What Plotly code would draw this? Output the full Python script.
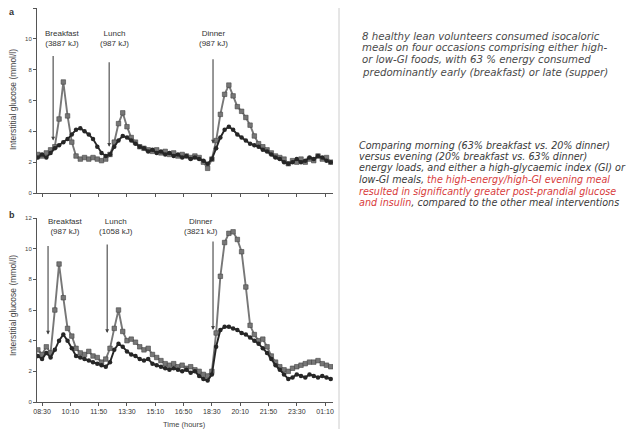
import plotly.graph_objects as go

# ---------------- data ----------------
minutes = list(range(-15, 1035, 15))  # sampling grid, minutes after 08:30

top_high_gi = [2.5, 2.4, 2.6, 2.8, 3.0, 4.8, 7.2, 5.0, 3.3, 2.4,
               2.2, 2.3, 2.2, 2.3, 2.2, 2.1, 2.2, 2.5, 3.3, 4.5,
               5.2, 4.3, 3.6, 3.3, 3.0, 2.9, 2.8, 2.7, 2.8, 2.6,
               2.7, 2.5, 2.6, 2.4, 2.5, 2.4, 2.3, 2.4, 2.3, 2.0,
               1.6, 2.2, 3.4, 5.1, 6.4, 7.0, 6.3, 5.6, 5.3, 4.9,
               4.4, 3.7, 3.2, 3.0, 2.8, 2.6, 2.4, 2.3, 2.2, 1.9,
               2.1, 2.0, 2.2, 2.0, 2.2, 2.1, 2.4, 2.2, 2.3, 2.0]
top_low_gi = [2.3, 2.5, 2.3, 2.6, 2.9, 3.1, 3.3, 3.5, 3.8, 4.1,
              4.2, 4.0, 3.8, 3.5, 3.0, 2.6, 2.4, 2.5, 3.0, 3.4,
              3.7, 3.6, 3.4, 3.2, 3.0, 2.9, 2.7, 2.8, 2.6, 2.7,
              2.5, 2.6, 2.4, 2.5, 2.3, 2.4, 2.2, 2.3, 2.2, 2.1,
              1.9, 2.2, 2.9, 3.6, 4.1, 4.3, 4.1, 3.8, 3.6, 3.4,
              3.2, 3.1, 3.0, 2.8, 2.7, 2.5, 2.3, 2.2, 2.0, 1.9,
              2.0, 2.2, 2.0, 2.1, 2.3, 2.2, 2.4, 2.3, 2.1, 2.0]
bottom_high_gi = [3.4, 3.1, 3.6, 3.2, 6.0, 9.0, 6.8, 4.8, 4.3, 3.5,
                  3.2, 3.1, 3.3, 3.0, 2.9, 2.6, 2.8, 3.5, 4.8, 6.0,
                  4.6, 4.0, 4.1, 3.9, 3.6, 3.4, 3.5, 3.1, 2.9, 2.7,
                  2.5, 2.4, 2.5, 2.3, 2.4, 2.2, 2.3, 2.1, 2.0, 1.8,
                  1.7, 2.0, 4.5, 8.2, 10.4, 11.0, 11.1, 10.6, 9.8, 7.5,
                  5.0, 4.4, 4.0, 4.1, 3.6, 3.0, 2.6, 2.3, 2.1, 2.0,
                  2.2, 2.3, 2.4, 2.5, 2.6, 2.6, 2.7, 2.5, 2.4, 2.3]
bottom_low_gi = [3.0, 2.8, 3.2, 2.9, 3.4, 4.0, 4.4, 4.0, 3.5, 3.0,
                 2.9, 2.8, 2.7, 2.6, 2.5, 2.4, 2.3, 2.6, 3.4, 3.8,
                 3.6, 3.3, 3.1, 3.0, 2.8, 2.7, 2.8, 2.5, 2.4, 2.3,
                 2.2, 2.1, 2.2, 2.1, 2.0, 2.1, 1.9, 2.0, 1.7, 1.5,
                 1.4, 1.8, 3.6, 4.7, 4.9, 4.9, 4.8, 4.7, 4.5, 4.4,
                 4.2, 4.0, 3.8, 3.5, 3.2, 2.8, 2.4, 2.1, 1.8, 1.5,
                 1.6, 1.8, 1.7, 1.6, 1.8, 1.7, 1.6, 1.7, 1.6, 1.5]

x_tick_labels = ["08:30", "10:10", "11:50", "13:30", "15:10", "16:50",
                 "18:30", "20:10", "21:50", "23:30", "01:10"]
y_tick_values = [0, 2, 4, 6, 8, 10, 12]

top_meals = ["Breakfast<br>(3887 kJ)", "Lunch<br>(987 kJ)", "Dinner<br>(987 kJ)"]
top_meal_minutes = [39, 237, 604]
top_meal_levels = [3.4, 3.0, 3.2]
bottom_meals = ["Breakfast<br>(987 kJ)", "Lunch<br>(1058 kJ)", "Dinner<br>(3821 kJ)"]
bottom_meal_minutes = [21, 230, 604]
bottom_meal_levels = [4.4, 4.5, 4.7]

para1 = ["8 healthy lean volunteers consumed isocaloric",
         "meals on four occasions comprising either high-",
         "or low-GI foods, with 63 % energy consumed",
         "predominantly early (breakfast) or late (supper)"]
para2 = [("Comparing morning (63% breakfast vs. 20% dinner)", ""),
         ("versus evening (20% breakfast vs. 63% dinner)", ""),
         ("energy loads, and either a high-glycaemic index (GI) or", ""),
         ("low-GI meals, ", "the high-energy/high-GI evening meal"),
         ("", "resulted in significantly greater post-prandial glucose"),
         ("", "and insulin|, compared to the other meal interventions")]

# ---------------- layout helpers ----------------
# the page body has an 8px margin, so the figure starts at (8, 8)
OFF = 8
W, H = 638 - OFF, 429 - OFF
def px(x):
    return (x - OFF) / W
def py(y):
    return 1 - (y - OFF) / H

FONT = "Liberation Sans, Arial, sans-serif"
DARK = "#262626"
GREY = "#777777"
AX = "#555555"
RED = "#d83c3c"

fig = go.Figure()

panels = [("x", "y", top_high_gi, top_low_gi), ("x2", "y2", bottom_high_gi, bottom_low_gi)]
for xa, ya, hi, lo in panels:
    fig.add_trace(go.Scatter(x=minutes, y=hi, xaxis=xa, yaxis=ya, mode="lines+markers",
                             line=dict(color=GREY, width=1.9),
                             marker=dict(symbol="square", size=4.5, color=GREY,
                                         line=dict(color="#444", width=0.6)),
                             showlegend=False, name="High GI"))
    fig.add_trace(go.Scatter(x=minutes, y=lo, xaxis=xa, yaxis=ya, mode="lines+markers",
                             line=dict(color=DARK, width=1.9),
                             marker=dict(symbol="circle", size=4.5, color=DARK),
                             showlegend=False, name="Low GI"))

xrange_ = [-18, 1028]
tickvals = [i * 100 for i in range(len(x_tick_labels))]
common_x = dict(range=xrange_, showgrid=False, zeroline=False, showline=True,
                linecolor=AX, linewidth=1, ticks="outside", ticklen=3, tickcolor=AX,
                tickvals=tickvals, automargin=False)
common_y = dict(range=[0, 12], showgrid=False, zeroline=False, showline=True,
                linecolor=AX, linewidth=1, ticks="outside", ticklen=3, tickcolor=AX,
                tickvals=y_tick_values, tickfont=dict(size=6, color="#444", family=FONT),
                automargin=False)

dom_x = [px(37), px(333)]
fig.update_layout(
    width=W, height=H,
    margin=dict(l=0, r=0, t=0, b=0),
    paper_bgcolor="white", plot_bgcolor="white",
    font=dict(family=FONT, color="#333"),
    xaxis=dict(domain=dom_x, anchor="y", showticklabels=False, **common_x),
    yaxis=dict(domain=[py(193), min(1, py(8))], anchor="x", **common_y),
    xaxis2=dict(domain=dom_x, anchor="y2", ticktext=x_tick_labels,
                tickfont=dict(size=7, color="#333", family=FONT), **common_x),
    yaxis2=dict(domain=[py(402), py(218)], anchor="x2", **common_y),
)

def label(text, x, y, size, color="#333", angle=0, family=None, xanchor="center"):
    f = dict(size=size, color=color)
    if family:
        f["family"] = family
    return dict(text=text, x=px(x), y=py(y), xref="paper", yref="paper",
                xanchor=xanchor, yanchor="middle", textangle=angle,
                showarrow=False, font=f)

ann = []
ann.append(label("<b>a</b>", 12, 12, 9))
ann.append(label("<b>b</b>", 12, 215, 9))
for yc in (100, 306):
    ann.append(label("Interstitial glucose (mmol/l)", 13, yc, 8.5, "#444", angle=-90))
ann.append(label("Time (hours)", 184, 424, 7.5, "#444"))

# meal labels and arrows
label_pos_top = [(62, 38), (114, 38), (213, 38)]
label_pos_bot = [(65, 227), (116, 227), (201, 227)]
for names, mins, levels, lpos, xr, yr, ay in [
        (top_meals, top_meal_minutes, top_meal_levels, label_pos_top, "x", "y", -86),
        (bottom_meals, bottom_meal_minutes, bottom_meal_levels, label_pos_bot, "x2", "y2", -90)]:
    for name, m, lv, (lx, ly) in zip(names, mins, levels, lpos):
        ann.append(label(name, lx, ly, 8))
        ann.append(dict(text="", x=m, y=lv, xref=xr, yref=yr, showarrow=True,
                        ax=0, ay=ay, arrowhead=2, arrowsize=0.7, arrowwidth=1.1,
                        arrowcolor="#444", standoff=0))

# right-hand text
TFONT = "DejaVu Sans, sans-serif"
p1_y = [36, 48, 60, 72]
for line, yy in zip(para1, p1_y):
    ann.append(label("<i>" + line + "</i>", 360, yy, 10.2, "#4a4a4a", family=TFONT, xanchor="left"))
p2_y = [145, 156.5, 168, 179.5, 191, 202.5]
for (black, red), yy in zip(para2, p2_y):
    if "|" in red:
        r, b = red.split("|")
        txt = f"<span style='color:{RED}'>{r}</span>{b}"
    else:
        txt = black + (f"<span style='color:{RED}'>{red}</span>" if red else "")
    ann.append(label("<i>" + txt + "</i>", 357, yy, 9.6, "#3a3a3a", family=TFONT, xanchor="left"))

fig.update_layout(annotations=ann)

# separator line
fig.add_shape(type="line", xref="paper", yref="paper", x0=px(339), x1=px(339),
              y0=1, y1=0, line=dict(color="#cccccc", width=1))

fig.write_html("out.html", config={"displayModeBar": False})
